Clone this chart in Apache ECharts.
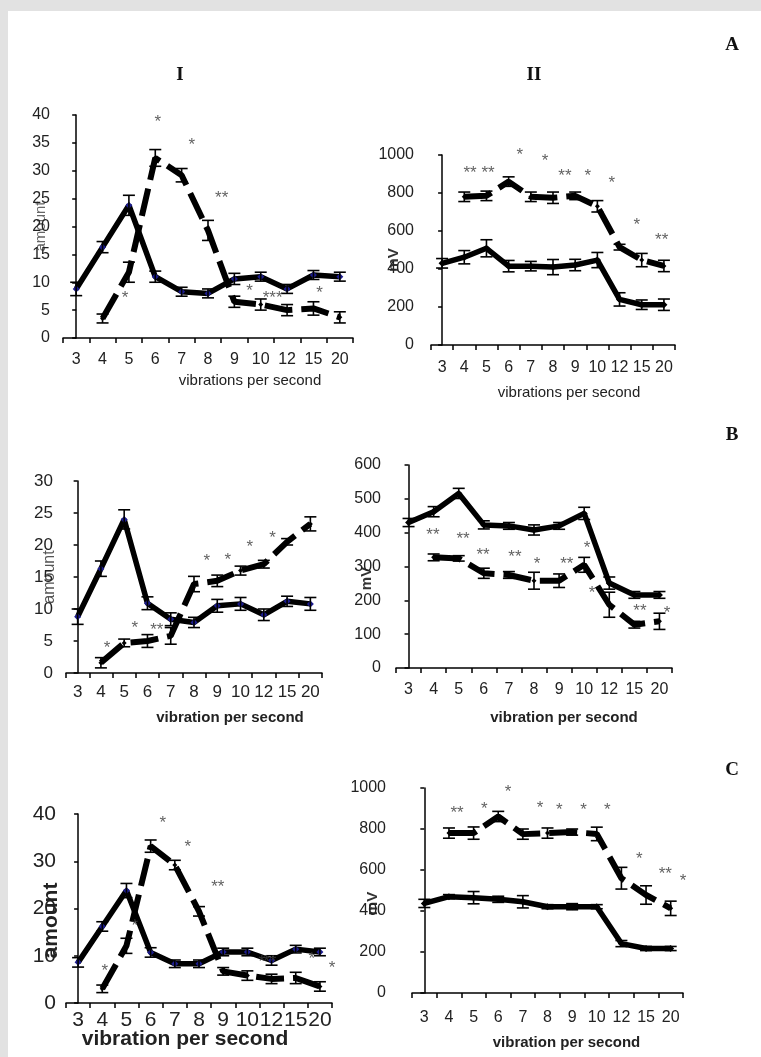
<!DOCTYPE html>
<html><head><meta charset="utf-8">
<script src="https://cdn.jsdelivr.net/npm/echarts@6/dist/echarts.min.js"></script>
<style>html,body{margin:0;padding:0;background:#e2e2e2}#c{width:761px;height:1057px}</style>
</head><body><div id="c"></div><script>
// ---------- DATA ----------
const categories = ['3','4','5','6','7','8','9','10','12','15','20'];

// Panel A-I
const aI_control    = [8.8,16.3,23.8,11,8.3,8,10.6,11,8.8,11.3,11];
const aI_controlErr = [1.2,1,1.8,1,0.8,0.8,1,0.8,0.8,0.8,0.8];
const aI_treated    = [null,3.5,11.8,32.3,29.2,19.3,6.5,6,5,5.3,3.7];
const aI_treatedErr = [null,0.8,1.8,1.5,1.2,1.8,1,1,1,1.2,1];
const aI_starX      = [1.85,3.1,4.39,5.52,6.58,7.45,9.23,10.56];
const aI_starY      = [7.2,38.7,34.6,25,8.3,7.2,8.1,6.3];
const aI_starText   = ['*','*','*','**','*','***','*','*'];

// Panel A-II
const aII_control    = [430,462,509,415,415,410,421,447,240,212,212];
const aII_controlErr = [25,35,45,30,25,40,30,40,35,25,30];
const aII_treated    = [null,780,785,860,780,775,785,730,515,447,416];
const aII_treatedErr = [null,25,25,25,25,30,20,30,15,35,30];
const aII_starX      = [1.26,2.07,3.5,4.64,5.54,6.57,7.65,8.78,9.9,10.7];
const aII_starY      = [903,903,1000,965,886,886,850,630,553,517];
const aII_starText   = ['**','**','*','*','**','*','*','*','**','*'];

// Panel B-I
const bI_control    = [8.8,16.3,24,10.9,8.4,7.9,10.5,10.8,9.1,11.2,10.8];
const bI_controlErr = [1.2,1.2,1.5,1,1,0.8,1,1,0.9,0.8,1];
const bI_treated    = [null,1.6,4.7,5,5.8,13.9,14.4,16,17,20.5,23.3];
const bI_treatedErr = [null,0.8,0.6,1,1.3,1.2,0.9,0.7,0.6,0.5,1.1];
const bI_starX      = [1.26,2.46,3.4,5.55,6.45,7.4,8.38,10.53];
const bI_starY      = [3.9,7,6.7,17.4,17.6,19.7,21,26.7];
const bI_starText   = ['*','*','**','*','*','*','*','*'];

// Panel B-II
const bII_control    = [430,462,516,423,420,408,420,457,251,216,216];
const bII_controlErr = [12,15,15,12,10,15,10,18,18,10,10];
const bII_treated    = [null,327,324,280,275,258,258,305,187,128,138];
const bII_treatedErr = [null,10,8,15,10,25,20,22,37,10,24];
const bII_starX      = [0.97,2.17,2.97,4.24,5.12,6.31,7.11,7.31,9.22,10.3];
const bII_starY      = [393,381,334,327,305,305,354,221,167,162];
const bII_starText   = ['**','**','**','**','*','**','*','*','**','*'];

// Panel C-I
const cI_control    = [8.6,16.2,23.8,10.7,8.3,8.3,10.8,10.8,9,11.4,10.8];
const cI_controlErr = [1,1,1.5,1,0.8,0.8,0.8,0.8,1,0.8,0.8];
const cI_treated    = [null,3,12.1,33.2,29.2,19.4,6.7,5.8,5.1,5.3,3.5];
const cI_treatedErr = [null,0.8,1.6,1.3,1,1,0.8,1,1,1.2,1];
const cI_starX      = [1.11,2.35,3.5,4.54,5.78,7.6,7.93,9.67,10.5];
const cI_starY      = [6.7,16.2,38,33,24.4,8.6,8.6,9.2,7.4];
const cI_starText   = ['*','*','*','*','**','*','**','*','*'];

// Panel C-II
const cII_control    = [437,470,465,457,445,421,421,421,241,217,217];
const cII_controlErr = [20,10,30,15,30,10,15,10,15,10,10];
const cII_treated    = [null,780,780,861,775,780,785,776,560,478,413];
const cII_treatedErr = [null,25,30,25,25,25,15,33,53,45,35];
const cII_starX      = [1.33,2.43,3.4,4.7,5.48,6.46,7.43,8.73,9.78,10.5];
const cII_starY      = [877,897,979,902,890,890,890,652,581,543];
const cII_starText   = ['**','*','*','*','*','*','*','*','**','*'];

// ---------- LAYOUT / STYLE ----------
const SANS = 'Liberation Sans, Arial, sans-serif';
const NARROW = 'Liberation Sans Narrow, Liberation Sans, Arial, sans-serif';
const panels = [
  {d:[aI_control,aI_controlErr,aI_treated,aI_treatedErr,aI_starX,aI_starY,aI_starText],
   grid:{left:63,top:115,width:290,height:223}, yMax:40, yInt:5, font:SANS, fs:16, xMargin:14, yMargin:13,
   xName:'vibrations per second', xNameBold:'normal', xNameSize:15, xGap:35, xPad:[0,0,0,84],
   yName:'amount', yNameSize:15, yNameBold:'normal', yGap:15, yPad:[0,0,0,0], yNameColor:'#666', marker:'#1c1c8f'},
  {d:[aII_control,aII_controlErr,aII_treated,aII_treatedErr,aII_starX,aII_starY,aII_starText],
   grid:{left:431,top:155,width:244,height:190}, yMax:1000, yInt:200, font:SANS, fs:16, xMargin:15, yMargin:17,
   xName:'vibrations per second', xNameBold:'normal', xNameSize:15, xGap:40, xPad:[0,0,0,32],
   yName:'mV', yNameSize:15, yNameBold:'bold', yGap:30, yPad:[0,20,0,0], yNameColor:'#333', marker:'#000'},
  {d:[bI_control,bI_controlErr,bI_treated,bI_treatedErr,bI_starX,bI_starY,bI_starText],
   grid:{left:66,top:481,width:256,height:192}, yMax:30, yInt:5, font:SANS, fs:17, xMargin:11, yMargin:13,
   xName:'vibration per second', xNameBold:'bold', xNameSize:15, xGap:37, xPad:[0,0,0,72],
   yName:'amount', yNameSize:16, yNameBold:'normal', yGap:8, yPad:[0,0,0,0], yNameColor:'#555', marker:'#1c1c8f'},
  {d:[bII_control,bII_controlErr,bII_treated,bII_treatedErr,bII_starX,bII_starY,bII_starText],
   grid:{left:396,top:465,width:276,height:203}, yMax:600, yInt:100, font:SANS, fs:16, xMargin:14, yMargin:15,
   xName:'vibration per second', xNameBold:'bold', xNameSize:15, xGap:42, xPad:[0,0,0,60],
   yName:'mV', yNameSize:15, yNameBold:'bold', yGap:22, yPad:[0,24,0,0], yNameColor:'#333', marker:'#000'},
  {d:[cI_control,cI_controlErr,cI_treated,cI_treatedErr,cI_starX,cI_starY,cI_starText],
   grid:{left:66,top:814,width:266,height:189}, yMax:40, yInt:10, font:NARROW, fs:21, xMargin:7, yMargin:10,
   xName:'vibration per second', xNameBold:'bold', xNameSize:21, xGap:26, xPad:[0,28,0,0],
   yName:'amount', yNameSize:21, yNameBold:'bold', yGap:4, yPad:[0,24,0,0], yNameColor:'#222', marker:'#1c1c8f'},
  {d:[cII_control,cII_controlErr,cII_treated,cII_treatedErr,cII_starX,cII_starY,cII_starText],
   grid:{left:412,top:788,width:271,height:205}, yMax:1000, yInt:200, font:SANS, fs:16, xMargin:17, yMargin:26,
   xName:'vibration per second', xNameBold:'bold', xNameSize:15, xGap:42, xPad:[0,0,0,38],
   yName:'mV', yNameSize:15, yNameBold:'bold', yGap:32, yPad:[0,26,0,0], yNameColor:'#333', marker:'#000'}
];

function errRender(params, api) {
  const x = api.value(0), lo = api.value(1), hi = api.value(2);
  const p1 = api.coord([x, lo]), p2 = api.coord([x, hi]);
  const w = 6, st = {stroke:'#000', lineWidth:1.6};
  return {type:'group', children:[
    {type:'line', shape:{x1:p1[0],y1:p1[1],x2:p2[0],y2:p2[1]}, style:st},
    {type:'line', shape:{x1:p1[0]-w,y1:p1[1],x2:p1[0]+w,y2:p1[1]}, style:st},
    {type:'line', shape:{x1:p2[0]-w,y1:p2[1],x2:p2[0]+w,y2:p2[1]}, style:st}
  ]};
}
function errData(vals, errs) {
  const out = [];
  vals.forEach((v,i) => { if (v != null) out.push([i, v - errs[i], v + errs[i]]); });
  return out;
}

const grid = [], xAxis = [], yAxis = [], series = [];
panels.forEach((p, i) => {
  const [ctrl, ctrlErr, trt, trtErr, sx, sy, st] = p.d;
  grid.push(Object.assign({containLabel:false}, p.grid));
  xAxis.push({type:'category', gridIndex:i, data:categories, boundaryGap:true,
    axisLine:{lineStyle:{color:'#000', width:1.5}},
    axisTick:{show:true, length:5, inside:false, lineStyle:{color:'#000', width:1.5}},
    axisLabel:{interval:0, margin:p.xMargin, fontFamily:p.font, fontSize:p.fs, color:'#222', hideOverlap:false},
    name:p.xName, nameLocation:'middle', nameGap:p.xGap, nameMoveOverlap:false,
    nameTextStyle:{fontFamily:p.font, fontSize:p.xNameSize, fontWeight:p.xNameBold, color:'#222', padding:p.xPad}
  });
  xAxis.push({type:'value', gridIndex:i, min:-0.5, max:10.5, show:false});
  yAxis.push({type:'value', gridIndex:i, min:0, max:p.yMax, interval:p.yInt,
    axisLine:{show:true, lineStyle:{color:'#000', width:1.5}},
    axisTick:{show:true, length:4, inside:false, lineStyle:{color:'#000', width:1.5}},
    splitLine:{show:false},
    axisLabel:{margin:p.yMargin, fontFamily:p.font, fontSize:p.fs, color:'#222', formatter:v => String(v)},
    name:p.yName, nameLocation:'middle', nameGap:p.yGap, nameMoveOverlap:false,
    nameTextStyle:{fontFamily:p.font, fontSize:p.yNameSize, fontWeight:p.yNameBold, color:p.yNameColor, padding:p.yPad}
  });
  series.push({type:'line', xAxisIndex:2*i, yAxisIndex:i, data:ctrl, symbol:'diamond', symbolSize:7,
    itemStyle:{color:p.marker}, lineStyle:{color:'#000', width:5.5}, z:3, animation:false});
  series.push({type:'line', xAxisIndex:2*i, yAxisIndex:i, data:trt, symbol:'diamond', symbolSize:5,
    itemStyle:{color:'#000'}, lineStyle:{color:'#000', width:6, type:[28,9]}, connectNulls:false, z:3, animation:false});
  series.push({type:'custom', xAxisIndex:2*i, yAxisIndex:i, renderItem:errRender,
    data:errData(ctrl, ctrlErr), encode:{x:0, y:[1,2]}, z:5, animation:false});
  series.push({type:'custom', xAxisIndex:2*i, yAxisIndex:i, renderItem:errRender,
    data:errData(trt, trtErr), encode:{x:0, y:[1,2]}, z:5, animation:false});
  series.push({type:'scatter', xAxisIndex:2*i+1, yAxisIndex:i, symbolSize:2,
    itemStyle:{color:'rgba(0,0,0,0)'}, z:6, animation:false, silent:true,
    data:sx.map((x,k) => [x, sy[k], st[k]]),
    label:{show:true, position:'inside', offset:[0,4], formatter:q => q.value[2], fontFamily:SANS, fontSize:17, color:'#3a3a3a'},
    labelLayout:{hideOverlap:false}});
});

const SERIF = 'Liberation Serif, DejaVu Serif, serif';
const option = {
  backgroundColor:'#e2e2e2',
  animation:false,
  graphic:[
    {type:'rect', left:8, top:11, shape:{width:753, height:1046}, style:{fill:'#fff'}, z:-100},
    {type:'text', x:732, y:45, style:{text:'A', font:'bold 19px '+SERIF, fill:'#111', align:'center', verticalAlign:'middle'}},
    {type:'text', x:732, y:435, style:{text:'B', font:'bold 19px '+SERIF, fill:'#111', align:'center', verticalAlign:'middle'}},
    {type:'text', x:732, y:770, style:{text:'C', font:'bold 19px '+SERIF, fill:'#111', align:'center', verticalAlign:'middle'}},
    {type:'text', x:180, y:75, style:{text:'I', font:'bold 19px '+SERIF, fill:'#111', align:'center', verticalAlign:'middle'}},
    {type:'text', x:534, y:75, style:{text:'II', font:'bold 19px '+SERIF, fill:'#111', align:'center', verticalAlign:'middle'}}
  ],
  grid, xAxis, yAxis, series
};
const chart = echarts.init(document.getElementById('c'), null, {renderer:'canvas'});
chart.setOption(option);
</script></body></html>
